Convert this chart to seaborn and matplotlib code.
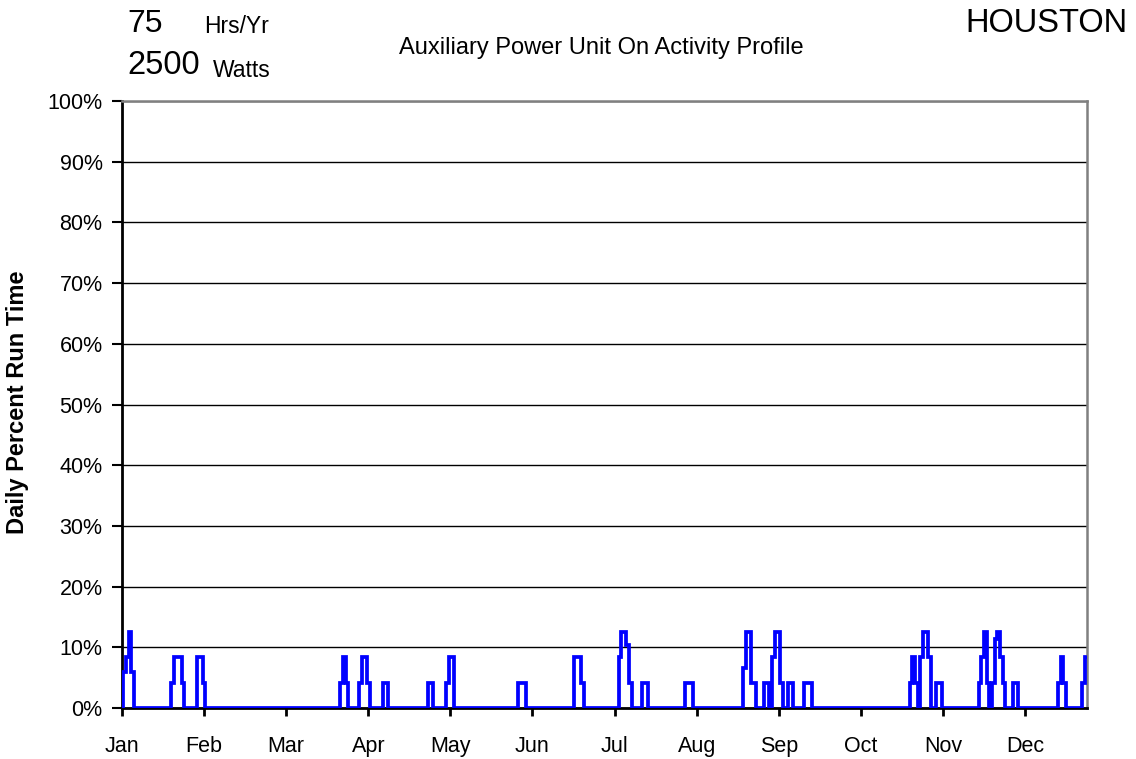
import numpy as np
import pandas as pd
import matplotlib
matplotlib.use("Agg")
import matplotlib.pyplot as plt
from matplotlib.ticker import PercentFormatter
import seaborn as sns

# --- data: day of year and daily % run time (all other days 0) ---
event_days = [1, 2, 3, 4,
              19, 20, 21, 22, 23,
              29, 30, 31,
              83, 84, 85,
              90, 91, 92, 93,
              99, 100,
              116, 117,
              123, 124, 125,
              150, 151, 152,
              171, 172, 173, 174,
              188, 189, 190, 191, 192,
              197, 198,
              213, 214, 215,
              235, 236, 237, 238, 239,
              243, 244,
              246, 247, 248, 249,
              252, 253,
              258, 259, 260,
              298, 299, 300,
              302, 303, 304, 305,
              308, 309,
              324, 325, 326, 327,
              329, 330, 331, 332, 333,
              337, 338,
              354, 355, 356,
              363, 364]
event_pct = [6.0, 8.33, 12.5, 6.0,
             4.17, 8.33, 8.33, 8.33, 4.17,
             8.33, 8.33, 4.17,
             4.17, 8.33, 4.17,
             4.17, 8.33, 8.33, 4.17,
             4.17, 4.17,
             4.17, 4.17,
             4.17, 8.33, 8.33,
             4.17, 4.17, 4.17,
             8.33, 8.33, 8.33, 4.17,
             8.33, 12.5, 12.5, 10.4, 4.17,
             4.17, 4.17,
             4.17, 4.17, 4.17,
             6.6, 12.5, 12.5, 4.17, 4.17,
             4.17, 4.17,
             8.33, 12.5, 12.5, 4.17,
             4.17, 4.17,
             4.17, 4.17, 4.17,
             4.17, 8.33, 4.17,
             8.33, 12.5, 12.5, 8.33,
             4.17, 4.17,
             4.17, 8.33, 12.5, 4.17,
             4.17, 11.4, 12.5, 8.33, 4.17,
             4.17, 4.17,
             4.17, 8.33, 4.17,
             4.17, 8.33]
months = ["Jan", "Feb", "Mar", "Apr", "May", "Jun",
          "Jul", "Aug", "Sep", "Oct", "Nov", "Dec"]
hrs_per_year = "75"
watts = "2500"
city = "HOUSTON"
title = "Auxiliary Power Unit On Activity Profile"

run_pct = np.zeros(365)
run_pct[event_days] = event_pct
df = pd.DataFrame({"day": np.arange(365), "pct": run_pct})

sns.set_style("white")
plt.rcParams["font.family"] = ["Liberation Sans", "DejaVu Sans"]
plt.rcParams["text.color"] = "black"

W, H = 1136, 759
fig = plt.figure(figsize=(W / 100, H / 100), dpi=100)
ax = fig.add_axes([122 / W, 1 - 708 / H, 965 / W, 607 / H])

sns.lineplot(data=df, x="day", y="pct", ax=ax, color="#0000ff", linewidth=2.7,
             drawstyle="steps-mid", estimator=None, zorder=3,
             solid_joinstyle="miter")

ax.set_xlim(0, 364.4)
ax.set_ylim(0, 100)
ax.set_yticks(range(0, 101, 10))
ax.yaxis.set_major_formatter(PercentFormatter(decimals=0))
ax.set_xticks(np.arange(12) * 31)  # ticks every 744 hours, as in the original
ax.set_xticklabels(months)
ax.set_xlabel("")
ax.set_ylabel("")

ax.grid(axis="y", color="black", linewidth=1.0)
ax.set_axisbelow(True)
ax.tick_params(axis="y", direction="out", length=7, width=1.5, pad=7,
               labelsize=15.5, left=True, colors="black")
ax.tick_params(axis="x", direction="out", length=6, width=2, pad=14,
               labelsize=15.5, bottom=True, colors="black")
for s in ["left", "bottom"]:
    ax.spines[s].set_color("black")
    ax.spines[s].set_linewidth(2)
for s in ["top", "right"]:
    ax.spines[s].set_color("#808080")
    ax.spines[s].set_linewidth(1.8)

# header texts
fig.text(127 / W, 1 - 32 / H, hrs_per_year, fontsize=23, va="baseline")
fig.text(204 / W, 1 - 33 / H, "Hrs/Yr", fontsize=16.5, va="baseline")
fig.text(127 / W, 1 - 74 / H, watts, fontsize=23.5, va="baseline")
fig.text(213 / W, 1 - 77 / H, "Watts", fontsize=16.5, va="baseline")
fig.text(601 / W, 1 - 54 / H, title, fontsize=17, ha="center", va="baseline")
fig.text(1127 / W, 1 - 32 / H, city, fontsize=23.5, ha="right", va="baseline")
fig.text(18 / W, 1 - 402 / H, "Daily Percent Run Time", fontsize=17,
         fontweight="bold", rotation=90, ha="center", va="center")

fig.savefig("out.png", dpi=100)
